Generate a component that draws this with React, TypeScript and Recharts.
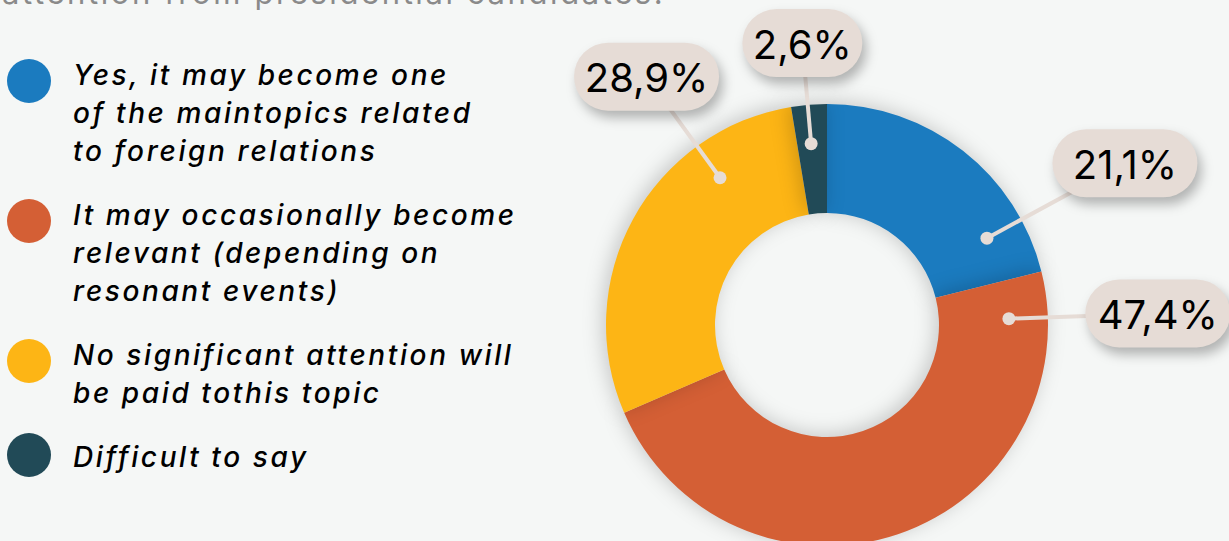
import { PieChart, Pie, Cell } from 'recharts';

const CATEGORIES = [
  'Yes, it may become one\nof the maintopics related\nto foreign relations',
  'It may occasionally become\nrelevant (depending on\nresonant events)',
  'No significant attention will\nbe paid tothis topic',
  'Difficult to say',
];
const VALUES = [21.1, 47.4, 28.9, 2.6];
const COLORS = ['#1b7bbf', '#d45f35', '#fdb515', '#214a57'];

// where each callout sits (degrees clockwise from 12 o'clock, distance of the pill from centre)
const CALLOUT_ANGLE = [61.5, 88, -36, -5];
const CALLOUT_DIST = [339, 331, 307, 283];

const data = CATEGORIES.map((name, i) => ({ name, value: VALUES[i] }));

const PILL = '#e6dcd6';
const FONT = 'Inter, "Noto Sans", sans-serif';

const renderCallout = (props: any) => {
  const { cx, cy, index, value } = props;
  const a = (CALLOUT_ANGLE[index] * Math.PI) / 180;
  const dotR = 182;
  const dx = cx + dotR * Math.sin(a);
  const dy = cy - dotR * Math.cos(a);
  const bx = cx + CALLOUT_DIST[index] * Math.sin(a);
  const by = cy - CALLOUT_DIST[index] * Math.cos(a);
  const text = `${Number(value).toFixed(1).replace('.', ',')}%`;
  const w = text.length * 25 + 20;
  const h = 68;
  return (
    <g key={`callout-${index}`}>
      <line x1={dx} y1={dy} x2={bx} y2={by} stroke={PILL} strokeWidth={4} />
      <circle cx={dx} cy={dy} r={6.5} fill={PILL} />
      <rect
        x={bx - w / 2}
        y={by - h / 2}
        width={w}
        height={h}
        rx={34}
        fill={PILL}
        style={{ filter: 'drop-shadow(4px 7px 6px rgba(0,0,0,0.28))' }}
      />
      <text
        x={bx}
        y={by + 1}
        textAnchor="middle"
        dominantBaseline="central"
        fontFamily={FONT}
        fontSize={40}
        fill="#000"
      >
        {text}
      </text>
    </g>
  );
};

const LegendBlock = () => (
  <div
    style={{
      position: 'absolute',
      left: 7,
      top: 56,
      display: 'flex',
      flexDirection: 'column',
      fontFamily: FONT,
    }}
  >
    {data.map((d, i) => (
      <div key={d.name} style={{ display: 'flex', alignItems: 'flex-start', marginBottom: 26 }}>
        <div
          style={{
            width: 44,
            height: 44,
            borderRadius: '50%',
            background: COLORS[i],
            marginTop: i === 3 ? -5 : 3,
            flexShrink: 0,
          }}
        />
        <div
          style={{
            marginLeft: 22,
            fontSize: 28,
            fontWeight: 500,
            lineHeight: '38px',
            letterSpacing: 2.6,
            fontStyle: 'italic',
            color: '#000',
            whiteSpace: 'pre',
          }}
        >
          {d.name}
        </div>
      </div>
    ))}
  </div>
);

export default function App() {
  return (
    <div style={{ position: 'relative', width: 1229, height: 541, background: '#f5f7f6', overflow: 'hidden' }}>
      <style>{`body{margin:0} .recharts-pie-sector{filter:drop-shadow(-3px -2px 10px rgba(0,0,0,0.2))}`}</style>
      <div
        style={{
          position: 'absolute',
          left: 2,
          top: -26,
          fontFamily: FONT,
          fontSize: 31,
          lineHeight: '38px',
          color: '#8a8a8a',
          whiteSpace: 'nowrap',
          letterSpacing: 2.6,
        }}
      >
        attention from presidential candidates.
      </div>
      <LegendBlock />
      <PieChart width={1229} height={541} style={{ position: 'absolute', left: 0, top: 0 }}>
        <Pie
          data={data}
          dataKey="value"
          nameKey="name"
          cx={822}
          cy={320}
          innerRadius={112}
          outerRadius={221}
          startAngle={90}
          endAngle={-270}
          stroke="none"
          labelLine={false}
          label={renderCallout}
          isAnimationActive={false}
        >
          {data.map((_, i) => (
            <Cell key={`cell-${i}`} fill={COLORS[i]} />
          ))}
        </Pie>
      </PieChart>
    </div>
  );
}
